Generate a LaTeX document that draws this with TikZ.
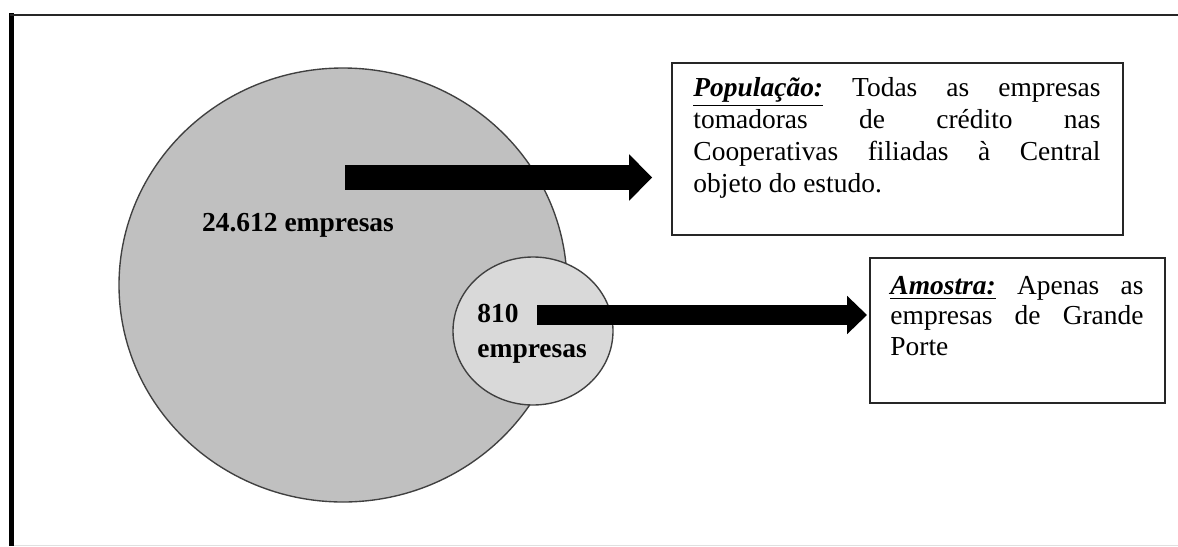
\documentclass[tikz,border=0pt]{standalone}
\usepackage{fontspec}
\setmainfont{Liberation Serif}
\usetikzlibrary{arrows.meta}

\definecolor{popgray}{RGB}{192,192,192}
\definecolor{amogray}{RGB}{217,217,217}

\tikzset{
  setcircle/.style={draw=black!75, line width=0.6pt},
  infobox/.style={draw=black!85, line width=0.8pt, inner sep=0pt},
  infotext/.style={inner sep=0pt, anchor=north west, align=justify},
  countlabel/.style={inner sep=0pt, font=\fontsize{12pt}{15.3pt}\selectfont\bfseries},
  bigarrow/.style={line width=10.9pt, -{Triangle[width=19.7pt,length=10pt]}},
  smallarrow/.style={line width=8.7pt, -{Triangle[width=16.2pt,length=8.7pt]}},
}

\begin{document}
\begin{tikzpicture}[x=0.437pt, y=-0.437pt]
    \useasboundingbox (0,0) rectangle (1178,546);

    % frame
    \draw[line width=2pt] (11.7,13) -- (11.7,546);
    \draw[line width=1.3pt, black!85] (9.7,15) -- (1178,15);
    \draw[line width=0.4pt, black!12] (14,545.5) -- (1178,545.5);

    % population circle
    \draw[setcircle, fill=popgray] (343,285) ellipse (224 and 217);
    \node[countlabel, anchor=base west] (poplabel) at (201.7,231.7) {24.612 empresas};

    % sample circle
    \draw[setcircle, fill=amogray] (533,331) ellipse (80 and 74);
    \node[countlabel, anchor=north west, align=left] (amolabel) at (477,304) {810\\empresas};

    % population box
    \node[infobox, minimum width=197.1pt, minimum height=75.2pt] (popbox) at (897.5,149) {};
    \node[infotext, text width=177.9pt, font=\fontsize{12pt}{14pt}\selectfont] (poptext) at (693,77)
        {\hyphenpenalty=10000\relax
         \underline{\textbf{\textit{População:}}} Todas as empresas\linebreak
         tomadoras de crédito nas\linebreak
         Cooperativas filiadas à Central\linebreak
         objeto do estudo.};

    % sample box
    \node[infobox, minimum width=128.9pt, minimum height=63.4pt] (amobox) at (1017.5,330.5) {};
    \node[infotext, text width=110.6pt, font=\fontsize{12pt}{13.2pt}\selectfont] (amotext) at (890,276)
        {\hyphenpenalty=10000\relax
         \underline{\textbf{\textit{Amostra:}}} Apenas as\linebreak
         empresas de Grande\linebreak
         Porte};

    % arrows
    \coordinate (popfrom) at (345,177.5);
    \draw[bigarrow, shorten >=8.3pt] (popfrom) -- (popfrom -| popbox.west);
    \coordinate (amofrom) at (537,315);
    \draw[smallarrow, shorten >=0.9pt] (amofrom) -- (amofrom -| amobox.west);
\end{tikzpicture}
\end{document}
